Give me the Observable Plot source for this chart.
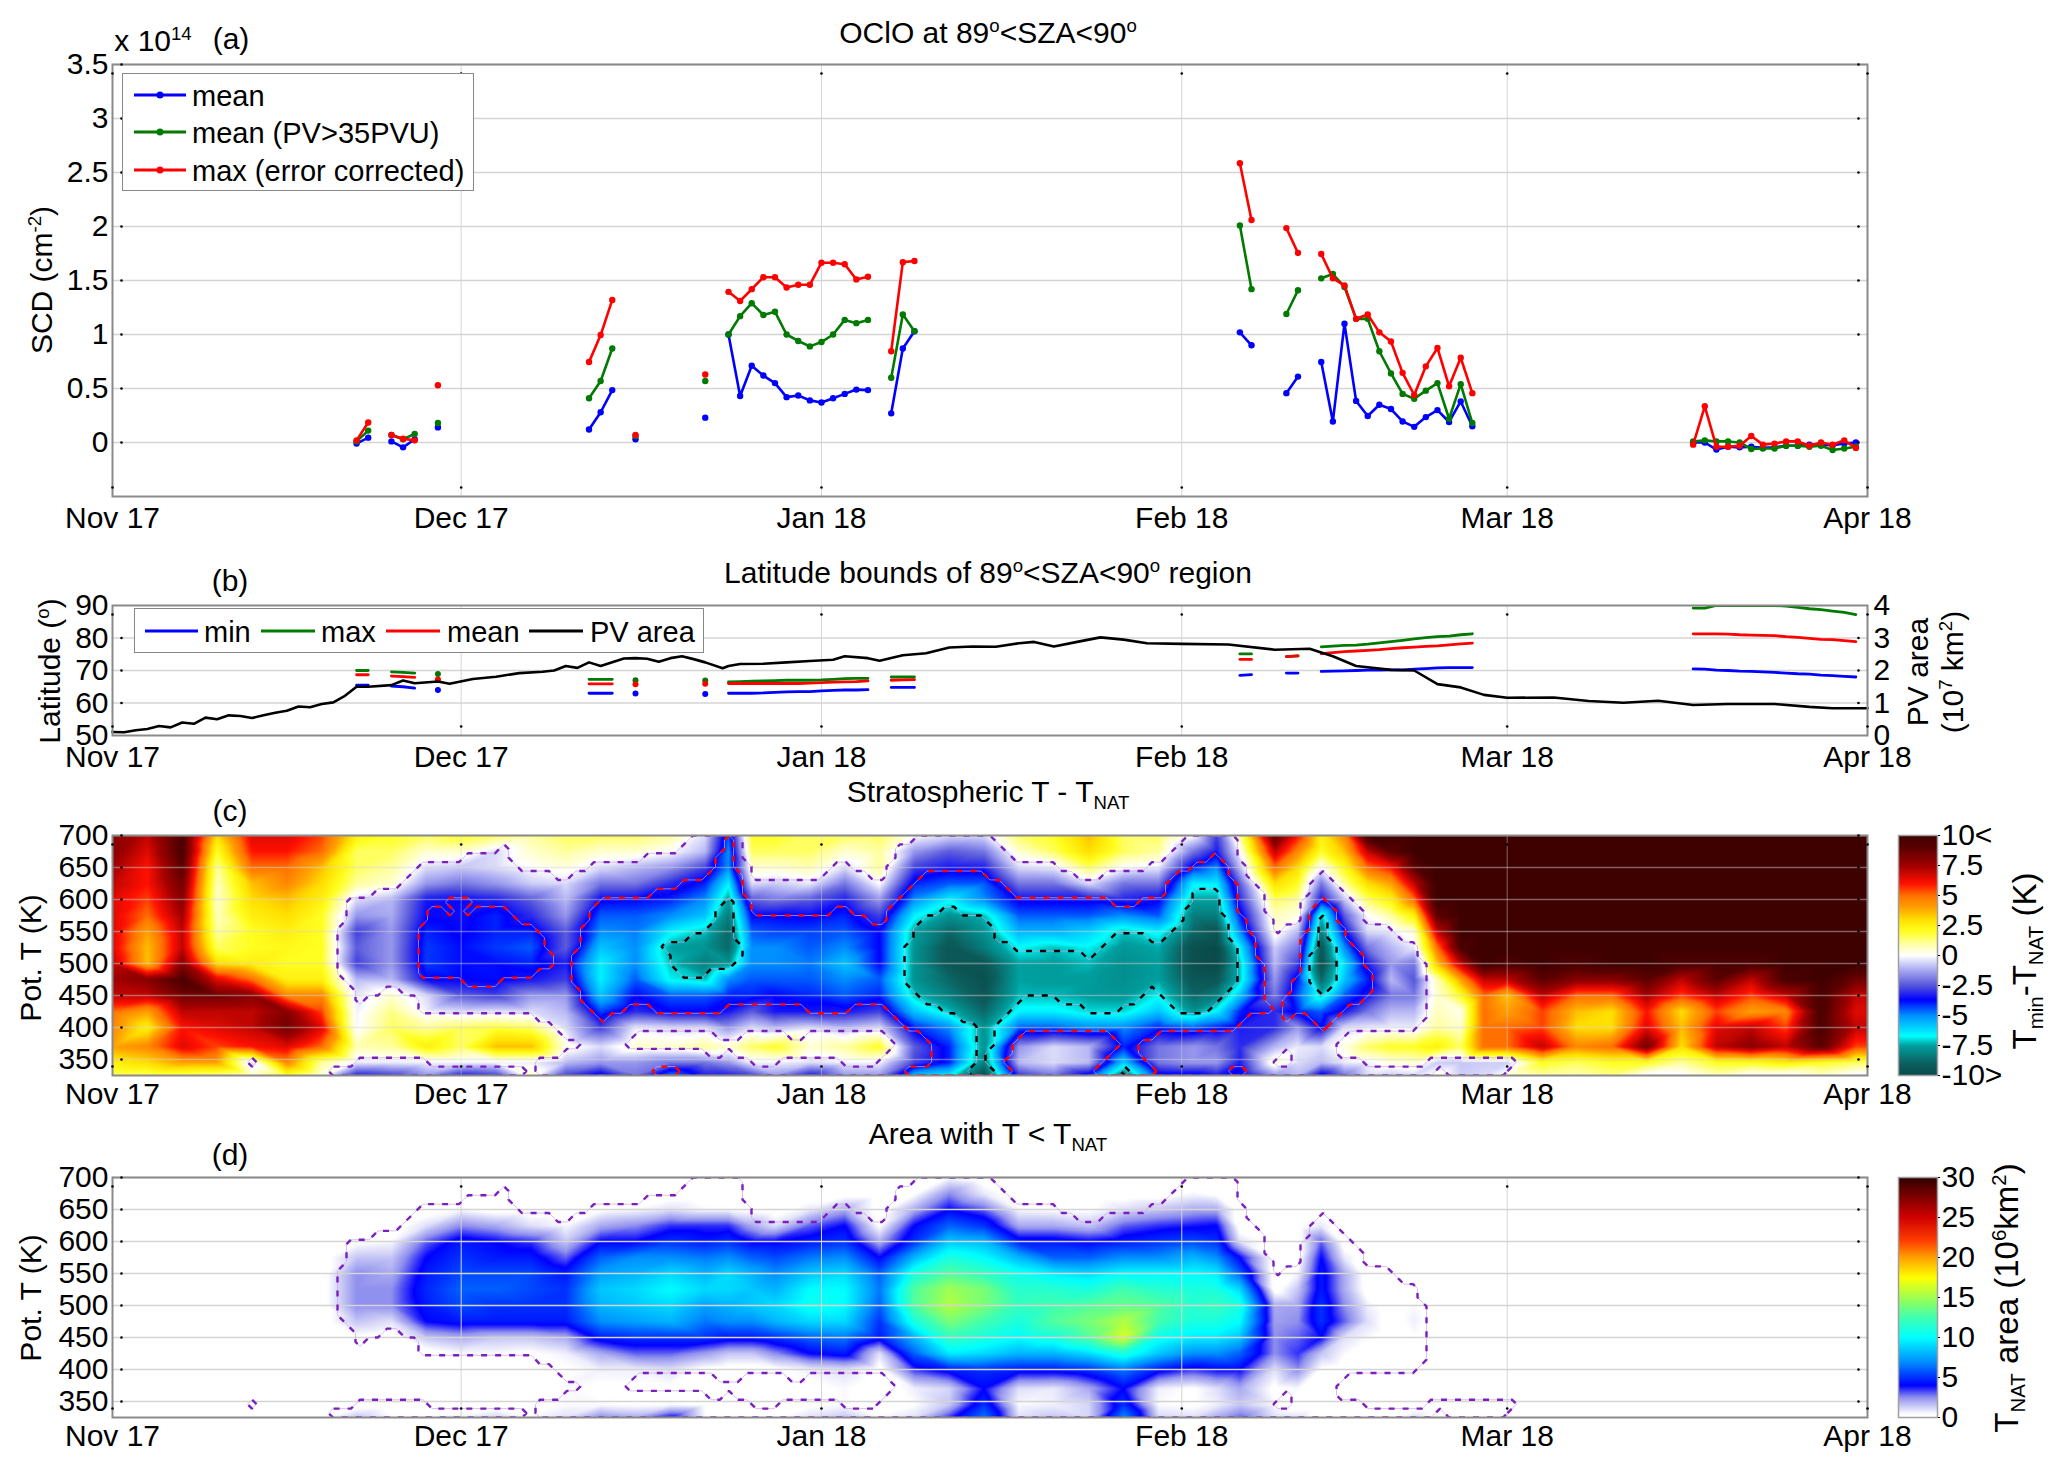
<!DOCTYPE html>
<html><head><meta charset="utf-8">
<script src="https://cdn.jsdelivr.net/npm/d3@7"></script>
<script src="https://cdn.jsdelivr.net/npm/@observablehq/plot@0.6"></script>
<style>
html,body{margin:0;background:#fff}
#page{position:relative;width:2067px;height:1474px;overflow:hidden;font-family:"Liberation Sans",Arial,sans-serif;color:#000}
#page>svg,#page>div{position:absolute}
.lab{white-space:nowrap;line-height:1;transform-origin:center}
sup,sub{font-size:.62em;line-height:0}
.leg{border:1.5px solid #888;background:#fff;box-sizing:border-box}
</style></head><body><div id="page"></div>
<script>
// ---------- panel (a): OClO SCD, 1e14 molec/cm2 ----------
const aDays=[21,22,null,24,25,26,null,28,null,41,42,43,null,45,null,51,null,53,54,55,56,57,58,59,60,61,62,63,64,65,null,67,68,69,null,97,98,null,101,102,null,104,105,106,107,108,109,110,111,112,113,114,115,116,117,null,136,137,138,139,140,141,142,143,144,145,146,147,148,149,150];
const aMean=[-0.01,0.045,null,0.01,-0.045,0.03,null,0.14,null,0.12,0.28,0.485,null,0.03,null,0.23,null,1.0,0.43,0.71,0.62,0.55,0.42,0.435,0.39,0.37,0.41,0.45,0.49,0.485,null,0.27,0.87,1.03,null,1.02,0.90,null,0.457,0.61,null,0.745,0.195,1.10,0.385,0.245,0.35,0.31,0.195,0.145,0.235,0.30,0.19,0.38,0.15,null,0,0,-0.065,-0.04,-0.045,-0.04,-0.05,-0.045,-0.03,-0.03,-0.02,-0.02,-0.025,-0.01,0];
const aMeanPV=[0.01,0.11,null,0.07,0.03,0.08,null,0.18,null,0.41,0.57,0.87,null,0.06,null,0.57,null,1.0,1.17,1.29,1.18,1.21,1.0,0.94,0.89,0.93,1.0,1.135,1.105,1.135,null,0.60,1.185,1.03,null,2.01,1.42,null,1.19,1.41,null,1.52,1.56,1.44,1.145,1.145,0.845,0.64,0.45,0.405,0.48,0.55,0.22,0.54,0.18,null,0.01,0.02,0.01,0.01,0,-0.06,-0.055,-0.055,-0.03,-0.03,-0.04,-0.03,-0.07,-0.055,-0.04];
const aMax=[0.02,0.185,null,0.07,0.035,0.02,null,0.53,null,0.745,0.995,1.32,null,0.07,null,0.63,null,1.395,1.31,1.42,1.53,1.53,1.435,1.46,1.46,1.665,1.665,1.65,1.51,1.535,null,0.845,1.67,1.68,null,2.585,2.06,null,1.985,1.755,null,1.745,1.52,1.455,1.145,1.185,1.02,0.935,0.645,0.44,0.705,0.875,0.52,0.785,0.457,null,-0.02,0.335,-0.04,-0.04,-0.03,0.06,-0.02,-0.01,0.01,0.01,-0.03,0,-0.02,0.02,-0.05];
// ---------- panel (b): latitude bounds (deg) and PV area (1e7 km2) ----------
const bMin=[65.5,65.5,null,65.2,65,64.6,null,64,null,63,63,63,null,62.9,null,62.8,null,63,63,63,63.1,63.3,63.4,63.5,63.5,63.7,63.9,64,64,64.1,null,64.8,64.8,64.8,null,68.5,68.7,null,69.2,69.2,null,69.7,69.8,69.9,70,70.1,70.1,70.2,70.2,70.4,70.6,70.8,70.9,70.9,70.9,null,70.5,70.4,70.1,70,69.8,69.7,69.6,69.4,69.2,69,68.9,68.6,68.4,68.2,68];
const bMax=[70,70,null,69.6,69.4,69.2,null,68.9,null,67.3,67.3,67.3,null,67,null,66.9,null,66.5,66.6,66.7,66.8,66.9,67,67,67,67.1,67.3,67.5,67.6,67.6,null,68,68,68,null,75.1,75.1,null,74.3,74.5,null,77.3,77.5,77.7,77.8,78.1,78.5,78.9,79.3,79.7,80.1,80.4,80.6,81,81.3,null,89.2,89.2,90,90,90,90,90,90,89.8,89.4,89,88.7,88.3,87.9,87.2];
const bAvg=[68.7,68.7,null,68.3,68.1,67.9,null,67.2,null,65.9,65.9,65.9,null,65.8,null,65.9,null,66,66,66,66,66,66,66,66.1,66.3,66.4,66.5,66.6,66.8,null,67,67.1,67.2,null,73.4,73.4,null,74.3,74.5,null,75.2,75.5,75.8,76,76.2,76.4,76.7,77,77.2,77.4,77.6,77.9,78.2,78.4,null,81.3,81.3,81.3,81.2,81,80.9,80.8,80.7,80.4,80.2,79.9,79.6,79.5,79.2,78.9];
const bSingles=[28,45,51];
const pvDays=[0,1,2,3,4,5,6,7,8,9,10,11,12,13,14,15,16,17,18,19,20,21,22,24,25,26,28,29,31,33,35,37,38,39,40,41,42,44,45,46,47,48,49,50,51,52.5,53,54,56,58,60,62,63,65,66,68,70,72,74,76,78,79.3,81,83,85,87,89,92,96,100,103,105,107,110,112,114,116,118,120,124,127,130,133,136,139,143,146,148,151];
const pvArea=[0.11,0.1,0.16,0.2,0.29,0.25,0.40,0.36,0.55,0.5,0.62,0.6,0.54,0.62,0.70,0.76,0.89,0.87,0.97,1.02,1.22,1.5,1.5,1.55,1.69,1.61,1.66,1.59,1.74,1.81,1.92,1.96,2.0,2.14,2.08,2.25,2.14,2.37,2.38,2.36,2.27,2.38,2.44,2.35,2.25,2.07,2.14,2.2,2.21,2.25,2.29,2.33,2.44,2.38,2.30,2.47,2.53,2.71,2.74,2.73,2.84,2.88,2.74,2.88,3.02,2.95,2.84,2.82,2.8,2.64,2.67,2.44,2.14,2.02,2.0,1.58,1.48,1.25,1.16,1.17,1.06,1.01,1.07,0.94,0.97,0.97,0.88,0.84,0.84];
// ---------- panels (c),(d): gridded fields, columns by day, rows by potential temperature ----------
const gridLevels=[700,675,650,625,600,575,550,525,500,475,450,425,400,370,345,325];
const gridDays=[0,3,6,9,12,15,18,21,24,27,30,33,36,39,42,45,48,51,53,55,57,60,63,66,69,72,75,78,81,84,87,90,93,95,97,100,102,104,106,108,110,112,114,116,118,120,123,126,129,132,135,138,141,144,147,150,151];
const tempGrid=[
[8,8,7.5,7,6.5,6.5,6.5,6.5,7,7.5,7,5,4.5,4,2.5,1.5],
[7,6.5,6,6,5.5,5,4,3.5,3.5,8,7,4,2.5,4.5,3,1.5],
[9.5,9.5,9,8.5,8,7.5,7,7,8,9.5,8.5,7,6,6.5,4,1.5],
[3,2,1,.7,.5,.7,1,1.5,3,6.5,8.5,7,6.5,5.5,4,1.2],
[6.5,6,5,3.5,3,2.5,2,2,2.5,5,8,7,7,6,-.5,.5],
[6.5,6,5,4.5,3.5,3,2.5,2.2,2,2.5,4.5,8,8.5,6.5,4.5,2],
[5.5,5,3.5,3,2.5,2,2,2,2,2.5,4.5,5.5,6.5,5,1,.3],
[2.5,1.5,1.5,1,-.5,-1.5,-2.8,-2.4,-2.8,-1,-.3,-.2,-.1,.8,-.3,-3.3],
[2,1.5,1,.5,-1,-1.2,-1.5,-1.5,-1.5,-1,.5,1.2,1.5,1,-.3,-2.8],
[1.5,.5,-.5,-1.5,-3.4,-3.6,-4,-4.2,-4.2,-3.6,-.5,-.2,1,2.5,-.2,-1.5],
[2,.5,-.8,-2,-3.6,-3.5,-3.6,-3.8,-3.8,-3.7,-2.4,-.5,1.5,1.5,-.2,-3.3],
[1.5,-.5,-.5,-1.5,-3.3,-4,-4,-4.2,-3.8,-3.8,-2.8,-.4,1.8,3.5,-.2,-2.8],
[1,.5,0,-.7,-2.4,-3.1,-4,-4.5,-4,-3.4,-1.5,-.5,1.5,3.5,-.2,.5],
[1.5,1,.3,-.5,-1,-1.5,-2.4,-2.4,-3.3,-2.8,-1.5,-1,-.5,.3,-1,-2.8],
[1.5,.5,-.5,-2,-3.6,-4.5,-5,-5.8,-6.5,-6.5,-5.8,-4.3,-2.8,-.5,-1.5,-4],
[1.5,.5,-1,-2,-3.7,-4.5,-4.8,-5,-5,-4.5,-3.7,-3.1,-.3,.5,-1.5,-2],
[1,0,-1.5,-3.1,-4,-5,-6.5,-7.5,-7.2,-6.8,-4.5,-3.7,-.5,.5,-2,-5],
[-.5,-1,-2.8,-4,-5,-5.8,-7.2,-7.8,-8.3,-7.2,-4.5,-3.7,-.5,1,-2,-3.3],
[-4.5,-5,-5,-6.5,-7.6,-8.3,-8.8,-8.8,-7.8,-5,-4,-3.4,-1.5,.5,-1.5,-3.3],
[2,1.5,.5,-.5,-2.4,-3.7,-4.5,-5,-5,-4.5,-4,-2.4,-.5,1.5,-.2,-2.8],
[2,1.5,.5,-.7,-2,-3.7,-4.3,-5,-5,-4.5,-3.7,-3.4,-1,2,-.2,-1.5],
[1.5,1.5,.8,-.3,-2.4,-3.6,-4.3,-4.5,-4.8,-4.5,-4,-3.4,-.5,.5,-.5,-3.4],
[1.5,.5,-.5,-2,-3.3,-4,-4.5,-5,-5.8,-5,-4.5,-3.4,-1,1,-.2,-1.5],
[1.5,1,1,0,-1.5,-2.8,-3.7,-3.7,-3.7,-4.5,-4,-2.8,-.5,2,-.2,-1.5],
[0,-1.5,-2.8,-4,-5,-6.5,-7.6,-7.8,-7.8,-7.8,-7.2,-5.8,-4,-2.4,-2.8,-5.8],
[-.5,-2.4,-3.4,-4.5,-6.5,-7.8,-8.8,-9.4,-9.4,-8.8,-8.3,-7.2,-5,-4,-4,-6.5],
[-.5,-2,-3.3,-4.5,-5,-7.2,-7.8,-8.3,-9.4,-9.7,-9.4,-8.8,-7.8,-7.8,-8.3,-9.7],
[1.5,.5,-.5,-2,-3.5,-4.5,-5.5,-6.7,-7.5,-7.5,-7.3,-6.5,-4.5,-1.5,-1,-3],
[2,1.5,-.3,-2,-3.5,-4.5,-5.5,-7.2,-7.6,-7.6,-7.3,-6.5,-4.5,-.5,-.5,-2],
[3.5,3,1.5,-.5,-3.5,-4.5,-6,-6.8,-7.3,-7.6,-7.6,-7,-5,-1,-1,-4],
[1.5,1.5,0,-2,-3.2,-5,-7.2,-7.7,-7.9,-7.9,-7.7,-7,-5,-4,-6,-8.5],
[1.5,1,-.3,-2,-3.6,-4.5,-6.5,-7.4,-7.6,-7.5,-6.8,-5.8,-4,-2,-2,-4],
[0,-2,-4,-6.5,-7.5,-8.3,-8.8,-9.7,-9.7,-9.4,-8.8,-7.8,-4.5,-1.5,-1.5,-4],
[-2.8,-3.4,-5,-6.5,-7.5,-8.3,-9.4,-10,-10,-9.4,-8.3,-6.5,-4,-2,-1.5,-3.3],
[1,0,-1,-2.4,-3.1,-4,-5,-6.5,-7.2,-7.2,-5.8,-4,-3.3,-3.1,-3.3,-4],
[9,7,5,3,1.5,.7,.3,-.7,-1,-1.5,-2,-3.1,-3.1,-1,.5,-1.5],
[6,4.5,3,2,1,.3,-1,-2,-2.8,-4,-4.5,-4,-1.5,-.3,-.5,-1],
[2.5,2,0,-2,-3.4,-7.2,-8.3,-9.4,-9.7,-8.8,-7.2,-4.5,-3.7,-.5,-1,-4],
[4.5,3.5,2.2,1,-.8,-2.4,-3.7,-5,-6.2,-5.8,-4.5,-3.4,-.5,.3,-.3,-2],
[10,7,5,3,1.5,0,-.5,-2,-3.3,-4,-3.4,-2,-.3,1.5,-.2,-.5],
[10,9,6,4,2.5,1,-.3,-1,-1.5,-1,-2,-1,-.2,2,.3,-.7],
[10,10,9,7,5,2.5,.5,-.3,-2,-2.5,-2,-1,-.3,2,.5,-.5],
[10,10,10,10,10,9,7,5,3.5,.8,.5,.7,1,2.5,-.7,.3],
[10,10,10,10,10,10,10,9.5,7,4,2,.2,.5,1.5,-.8,-.7],
[10,10,10,10,10,10,10,10,10,7,5,5,5,5,-.7,-.5],
[10,10,10,10,10,10,10,10,9.5,7,3.5,4,5,5,-.7,.2],
[10,10,10,10,10,10,10,10,10,9,7,5.5,5.5,7,2,1],
[10,10,10,10,10,10,10,10,9.5,8,5,3.5,3,4.5,1.5,.8],
[10,10,10,10,10,10,10,10,10,8,5,3,3,5,2,1.2],
[10,10,10,10,10,10,10,10,10,9,7.5,6,6.5,8.5,2,-.2],
[10,10,10,10,10,10,10,10,9.5,7,5.5,3,3.5,3,1,-.2],
[10,10,10,10,10,10,10,10,9.5,9,7,5.5,6.5,7,2,.7],
[10,10,10,10,10,10,10,10,9.5,7,5.5,4,7,8,2,-.2],
[10,10,10,10,10,10,10,10,10,9.5,7,4.5,5.5,7,2.5,-.2],
[10,10,10,10,10,10,10,10,10,10,9.5,9.5,9.5,9,2,.5],
[10,10,10,10,10,10,10,10,10,8.5,7,6.5,7,5.5,1.5,-.3],
[10,10,10,10,10,10,10,10,10,8.5,7,6.5,7,5.5,1.5,-.3]];
const areaGrid=[
[0,0,0,0,0,0,0,0,0,0,0,0,0,0,0,0],
[0,0,0,0,0,0,0,0,0,0,0,0,0,0,0,0],
[0,0,0,0,0,0,0,0,0,0,0,0,0,0,0,0],
[0,0,0,0,0,0,0,0,0,0,0,0,0,0,0,0],
[0,0,0,0,0,0,0,0,0,0,0,0,0,0,0,0],
[0,0,0,0,0,0,0,0,0,0,0,0,0,0,0,0],
[0,0,0,0,0,0,0,0,0,0,0,0,0,0,0,.2],
[0,0,0,0,.3,1.5,2.5,2.5,2.5,1.5,.3,0,0,0,0,1.5],
[0,0,0,0,.5,1.5,2,2.5,2.5,1,0,0,0,0,0,.5],
[0,0,0,1,3,4,4.5,4.8,4.5,4,1.5,0,0,0,0,.5],
[0,0,.5,2.5,4.5,5,5.5,6,5.5,4.5,2,.5,0,0,0,.7],
[0,0,0,2,4,4.5,5.5,6,5,4.5,1.5,.5,0,0,0,1.2],
[0,0,0,1,3.5,4.5,5.5,5.5,5,4.5,1.5,.3,0,0,0,.5],
[0,0,0,.5,1.5,3,4.5,5,5,4.5,2,.7,.3,.5,.5,1],
[0,0,.3,2,4,6,7.5,8.5,8,7,4.5,2,.7,.2,.5,2.5],
[0,0,.5,2.5,4,7,8,9,8.5,7.5,5,3,.7,.3,.3,2],
[0,0,1,3.5,5,7,9,10,9,8,5,3,1,.3,.5,4],
[0,0,.5,3.5,4.5,6.5,8,9,7.5,6.5,5,2.2,.2,0,.3,.5],
[0,0,.5,3.5,5,7,9,9,8,7,4.5,1.5,0,0,0,.3],
[0,0,.2,2,4,6,8,8.5,8.5,7,4.5,1.5,0,0,0,.3],
[0,0,0,1,4,5.5,7,8,9,8,5,2.5,.2,0,0,.3],
[0,0,.8,3,4.5,6.5,8.5,10,10.5,9,6,4,.7,.1,.3,1],
[0,0,2,4,5,7,9,10,10,9,6.5,4.5,1,.5,.5,1.5],
[0,0,0,.3,2,4,6,6.5,6,5,4.5,1,.1,0,0,.5],
[0,.3,2,4,5,8,11,13,13,11,8,6,3.5,.7,.4,1],
[.5,2.5,4,6,8.5,11,13,15,15.5,14,12,9.5,4.5,1.2,1.5,3.5],
[0,.8,3,5,8,10,12,14,14,12.5,11,9,5,4,5,6.5],
[0,0,.5,2,4.5,8,10.5,11.5,12,11,10,8,4.5,1,.5,1],
[0,0,.4,2,4.5,6,9.5,11.5,12.5,13,11,8,4.5,.8,.7,1.5],
[0,0,.3,1.5,4,6,9,11,13,14,13,9,5,2,1.2,1.2],
[0,0,1,3,4.5,7,10,12.5,13.5,15.5,16.5,11,6.5,4,5,7],
[0,0,1.5,3.5,5,7,10,11.5,13,12.5,10.5,8.5,4.5,.7,.5,1.2],
[0,.5,2,3.8,5.5,8,10,11,11.5,11,9.5,7,3.5,.3,.3,1],
[0,.2,2,4,5,7,9.5,11,12,11,9.5,7,4,1,.7,2],
[0,0,0,0,1,4,6,9,11,10,8.5,6,4,2,1.5,3],
[0,0,0,0,0,0,0,0,2,2.2,2.5,2.5,1,.2,.5,1],
[0,0,0,0,0,0,.6,1.5,2.2,2.5,3,3.5,2.5,.5,0,1],
[0,0,0,.8,3,4,4.5,4.5,5,5,4,1.5,.3,0,0,0],
[0,0,0,0,0,.8,2,2,2.5,3,1,.5,0,0,0,.2],
[0,0,0,0,0,0,0,0,.7,1,.5,0,0,0,0,.3],
[0,0,0,0,0,0,0,0,0,0,0,0,0,0,0,.2],
[0,0,0,0,0,0,0,0,.5,.7,.4,0,0,0,0,1],
[0,0,0,0,0,0,0,0,0,0,0,0,0,0,0,.2],
[0,0,0,0,0,0,0,0,0,0,0,0,0,0,0,0],
[0,0,0,0,0,0,0,0,0,0,0,0,0,0,0,0],
[0,0,0,0,0,0,0,0,0,0,0,0,0,0,0,.3],
[0,0,0,0,0,0,0,0,0,0,0,0,0,0,0,0],
[0,0,0,0,0,0,0,0,0,0,0,0,0,0,0,0],
[0,0,0,0,0,0,0,0,0,0,0,0,0,0,0,0],
[0,0,0,0,0,0,0,0,0,0,0,0,0,0,0,0],
[0,0,0,0,0,0,0,0,0,0,0,0,0,0,0,0],
[0,0,0,0,0,0,0,0,0,0,0,0,0,0,0,0],
[0,0,0,0,0,0,0,0,0,0,0,0,0,0,0,0],
[0,0,0,0,0,0,0,0,0,0,0,0,0,0,0,0],
[0,0,0,0,0,0,0,0,0,0,0,0,0,0,0,0],
[0,0,0,0,0,0,0,0,0,0,0,0,0,0,0,0],
[0,0,0,0,0,0,0,0,0,0,0,0,0,0,0,0]];
const monthStarts=[0,30,61,92,120,151];
const tempStops=[-10,-9,-7.5,-6.7,-5,-3.7,-2.5,-1,0,1,2,3,4,5,6,7.5,9,10];
const tempColors=["#0a4a4a","#0d5f5f","#00a0a0","#00ffff","#0090ff","#0000ff","#5555dd","#b8b8f5","#ffffff","#ffffa0","#ffff20","#ffe000","#ffa000","#ff7000","#ff1000","#a00000","#5a0000","#3f0000"];
const areaStops=[0,.4,1,2.5,4,7,10,12.5,15,17.5,20,22,25,30];
const areaColors=["#ffffff","#ffffff","#e0e0fa","#9090ee","#0000ff","#0090ff","#00ffff","#40ffb0","#a0ff50","#ffff00","#ffa000","#ff4000","#d00000","#300000"];

// ---------- helpers ----------
const FONT='"Liberation Sans",Arial,sans-serif', FS=30;
const page=document.getElementById("page");
const date=d=>d==null?null:new Date(Date.UTC(2017,10,1+d));
const months=monthStarts.map(date);
const X0=112,X1=1867,MT=20,MB=50,MR=200;
const GRID="#d4d4d4";
const FRAME="#8a8a8a";
const fmt=d=>String(d);
const cPoints=gridDays.flatMap((d,i)=>gridLevels.map((t,j)=>({date:date(d),t,v:tempGrid[i][j],a:areaGrid[i][j]})));

function panel(top,bottom,yOpt,marks,color){
  const svg=Plot.plot({
    width:X0+(X1-X0)+MR,height:bottom-top+MT+MB,
    marginLeft:X0,marginRight:MR,marginTop:MT,marginBottom:MB,
    x:{type:"utc",domain:[date(0),date(151)]},
    y:{...yOpt,label:null},color,
    style:{fontFamily:FONT,fontSize:FS+"px",background:"transparent",overflow:"visible"},
    marks});
  svg.style.left="0px";svg.style.top=(top-MT)+"px";
  page.appendChild(svg);return svg;
}
function chrome(yTicks,labelTicks,under,opacity=1){ // grid, frame, ticks, labels
  return {
    grid:[Plot.ruleY(yTicks,{stroke:GRID,strokeWidth:1.6,strokeOpacity:opacity}),
          Plot.ruleX(months,{stroke:GRID,strokeWidth:1,strokeOpacity:opacity})],
    box:[Plot.frame({stroke:FRAME,strokeWidth:2}),
      Plot.axisY({ticks:labelTicks,tickFormat:fmt,label:null,tickSize:0,tickPadding:4,fontSize:FS,stroke:"none"}),
      Plot.axisX({ticks:months,tickFormat:d3.utcFormat("%b %y"),label:null,tickSize:0,tickPadding:under,fontSize:FS}),
      Plot.dot(yTicks,{x:()=>date(0),y:d=>d,dx:9,r:1.3,fill:"#000"}),
      Plot.dot(yTicks,{x:()=>date(151),y:d=>d,dx:-9,r:1.3,fill:"#000"}),
      Plot.dot(months,{x:d=>d,frameAnchor:"top",dy:9,r:1.3,fill:"#000"}),
      Plot.dot(months,{x:d=>d,frameAnchor:"bottom",dy:-9,r:1.3,fill:"#000"})]
  };
}
function txt(html,x,y,o={}){
  const e=document.createElement("div");e.className="lab";e.innerHTML=html;
  e.style.left=x+"px";e.style.top=y+"px";e.style.fontSize=(o.size||FS)+"px";
  e.style.transform=`translate(${o.anchor==="start"?"0":"-50%"},-50%)`+(o.rot?` rotate(${o.rot}deg)`:"");
  page.appendChild(e);return e;
}
function legend(x,y,w,h){const e=document.createElement("div");e.className="leg";
  e.style.cssText+=`left:${x}px;top:${y}px;width:${w}px;height:${h}px`;page.appendChild(e);}
function legLine(x1,x2,y,c,dot,wd=3){
  const s=document.createElementNS("http://www.w3.org/2000/svg","svg");
  s.setAttribute("width",x2-x1);s.setAttribute("height",12);s.style.left=x1+"px";s.style.top=(y-6)+"px";
  s.innerHTML=`<line x1="0" x2="${x2-x1}" y1="6" y2="6" stroke="${c}" stroke-width="${wd}"/>`+(dot?`<circle cx="${(x2-x1)/2}" cy="6" r="3.5" fill="${c}"/>`:"");
  page.appendChild(s);
}
// ---------- panel (a) ----------
{
  const rows=aDays.map((d,i)=>({date:date(d),mean:aMean[i],pv:aMeanPV[i],max:aMax[i]}));
  const yt=[0,.5,1,1.5,2,2.5,3,3.5];
  const c=chrome(yt,yt,10);
  const series=[["mean","#0000ff"],["pv","#007a00"],["max","#ff0000"]];
  panel(64,496,{domain:[-.5,3.5]},[
    ...c.grid,
    ...series.flatMap(([k,col])=>[
      Plot.line(rows,{x:"date",y:k,stroke:col,strokeWidth:2.6}),
      Plot.dot(rows.filter(r=>r[k]!=null),{x:"date",y:k,fill:col,r:3.2})]),
    ...c.box]);
  legend(122,73,352,118);
  [["mean","#0000ff",96],["mean (PV&gt;35PVU)","#007a00",133],["max (error corrected)","#ff0000",171]].forEach(([t,col,y])=>{
    legLine(134,186,y-1,col,true);txt(t,192,y,{anchor:"start",size:29});
  });
  txt("x 10<sup>14</sup>",153,41);
  txt("(a)",231,39);
  txt("OClO at 89<sup>o</sup>&lt;SZA&lt;90<sup>o</sup>",988,33);
  txt("SCD (cm<sup>-2</sup>)",42,280,{rot:-90});
}
// ---------- panel (b) ----------
{
  const rows=aDays.map((d,i)=>({date:date(d),min:bMin[i],max:bMax[i],avg:bAvg[i],day:d}));
  const singles=rows.filter(r=>bSingles.includes(r.day));
  const pv=pvDays.map((d,i)=>({date:new Date(Date.UTC(2017,10,1)+d*864e5),y:50+10*pvArea[i]}));
  const yt=[50,60,70,80,90];
  const c=chrome([60,70,80],yt,10);
  const series=[["min","#0000ff"],["max","#007a00"],["avg","#ff0000"]];
  panel(605,735,{domain:[50,90]},[
    ...c.grid,
    ...series.flatMap(([k,col])=>[
      Plot.line(rows,{x:"date",y:k,stroke:col,strokeWidth:2.8,clip:true}),
      Plot.dot(singles,{x:"date",y:k,fill:col,r:3})]),
    Plot.line(pv,{x:"date",y:"y",stroke:"#000",strokeWidth:2.6}),
    ...c.box,
    Plot.axisY({anchor:"right",ticks:yt,tickFormat:d=>(d-50)/10,label:null,tickSize:0,tickPadding:6,fontSize:FS})]);
  legend(134,608,570,45);
  [["min","#0000ff",145,198,204],["max","#007a00",261,315,321],["mean","#ff0000",386,440,447],["PV area","#000",529,583,590]].forEach(([t,col,a,b,tx])=>{
    legLine(a,b,631,col,false);txt(t,tx,632,{anchor:"start",size:29});
  });
  txt("(b)",230,581);
  txt("Latitude bounds of 89<sup>o</sup>&lt;SZA&lt;90<sup>o</sup> region",988,573);
  txt("Latitude (<sup>o</sup>)",50,671,{rot:-90});
  txt("PV area",1918,672,{rot:-90});
  txt("(10<sup>7</sup> km<sup>2</sup>)",1953,672,{rot:-90});
}
// ---------- panel (c) ----------
const tempColor={type:"linear",domain:tempStops,range:tempColors,interpolate:"rgb",clamp:true};
const areaColor={type:"linear",domain:areaStops,range:areaColors,interpolate:"rgb",clamp:true};
const ytT=[350,400,450,500,550,600,650,700];
function contourPair(level,color){
  const o={x:"date",y:"t",value:d=>-d.v,interpolate:"barycentric",thresholds:[level],fill:"none",pixelSize:9,smooth:false,clip:true};
  return [Plot.contour(cPoints,{...o,stroke:"#c9a6e8",strokeWidth:.8,strokeOpacity:.9}),
          Plot.contour(cPoints,{...o,stroke:color,strokeWidth:2.4,strokeDasharray:"6,8"})];
}
{
  const c=chrome(ytT,ytT,7,.45);
  panel(835,1075,{domain:[325,700]},[
    Plot.raster(cPoints,{x:"date",y:"t",fill:"v",interpolate:"barycentric",pixelSize:1.5}),
    ...c.grid,
    ...contourPair(0.15,"#7a1fc0"),
    ...contourPair(3.5,"#ff0000"),
    ...contourPair(7.1,"#000"),
    ...c.box],tempColor);
  txt("(c)",230,811);
  txt("Stratospheric T - T<sub>NAT</sub>",988,792);
  txt("Pot. T (K)",31,958,{rot:-90});
}
// ---------- panel (d) ----------
{
  const c=chrome(ytT,ytT,7);
  panel(1177,1417,{domain:[325,700]},[
    Plot.raster(cPoints,{x:"date",y:"t",fill:"a",interpolate:"barycentric",pixelSize:1.5}),
    ...c.grid,
    ...contourPair(0.15,"#7a1fc0"),
    ...c.box],areaColor);
  txt("(d)",230,1155);
  txt("Area with T &lt; T<sub>NAT</sub>",988,1134);
  txt("Pot. T (K)",31,1298,{rot:-90});
}
// ---------- colour bars ----------
function bar(top,bottom,domain,color,ticks,f){
  const s=Plot.plot({width:39+120,height:bottom-top+40,marginLeft:0,marginRight:120,marginTop:20,marginBottom:20,
    x:{domain:[0,1],axis:null},y:{domain,label:null},color,
    style:{fontFamily:FONT,fontSize:FS+"px",background:"transparent",overflow:"visible"},
    marks:[Plot.raster({x1:0,x2:1,y1:domain[0],y2:domain[1],fill:(x,y)=>y,pixelSize:1}),
      Plot.frame({stroke:"#a0a0a0",strokeWidth:1.5}),
      Plot.axisY({anchor:"right",ticks,tickFormat:f,label:null,tickSize:2,tickPadding:2,fontSize:FS})]});
  s.style.left="1898px";s.style.top=(top-20)+"px";page.appendChild(s);
}
bar(835,1075,[-10,10],tempColor,[-10,-7.5,-5,-2.5,0,2.5,5,7.5,10],d=>d===10?"10<":d===-10?"-10>":String(d));
bar(1177,1417,[0,30],areaColor,[0,5,10,15,20,25,30],d=>String(d));
txt("T<sub>min</sub>-T<sub>NAT</sub> (K)",2024,961,{rot:-90,size:33});
txt("T<sub>NAT</sub> area (10<sup>6</sup>km<sup>2</sup>)",2006,1298,{rot:-90,size:33});
</script></body></html>
